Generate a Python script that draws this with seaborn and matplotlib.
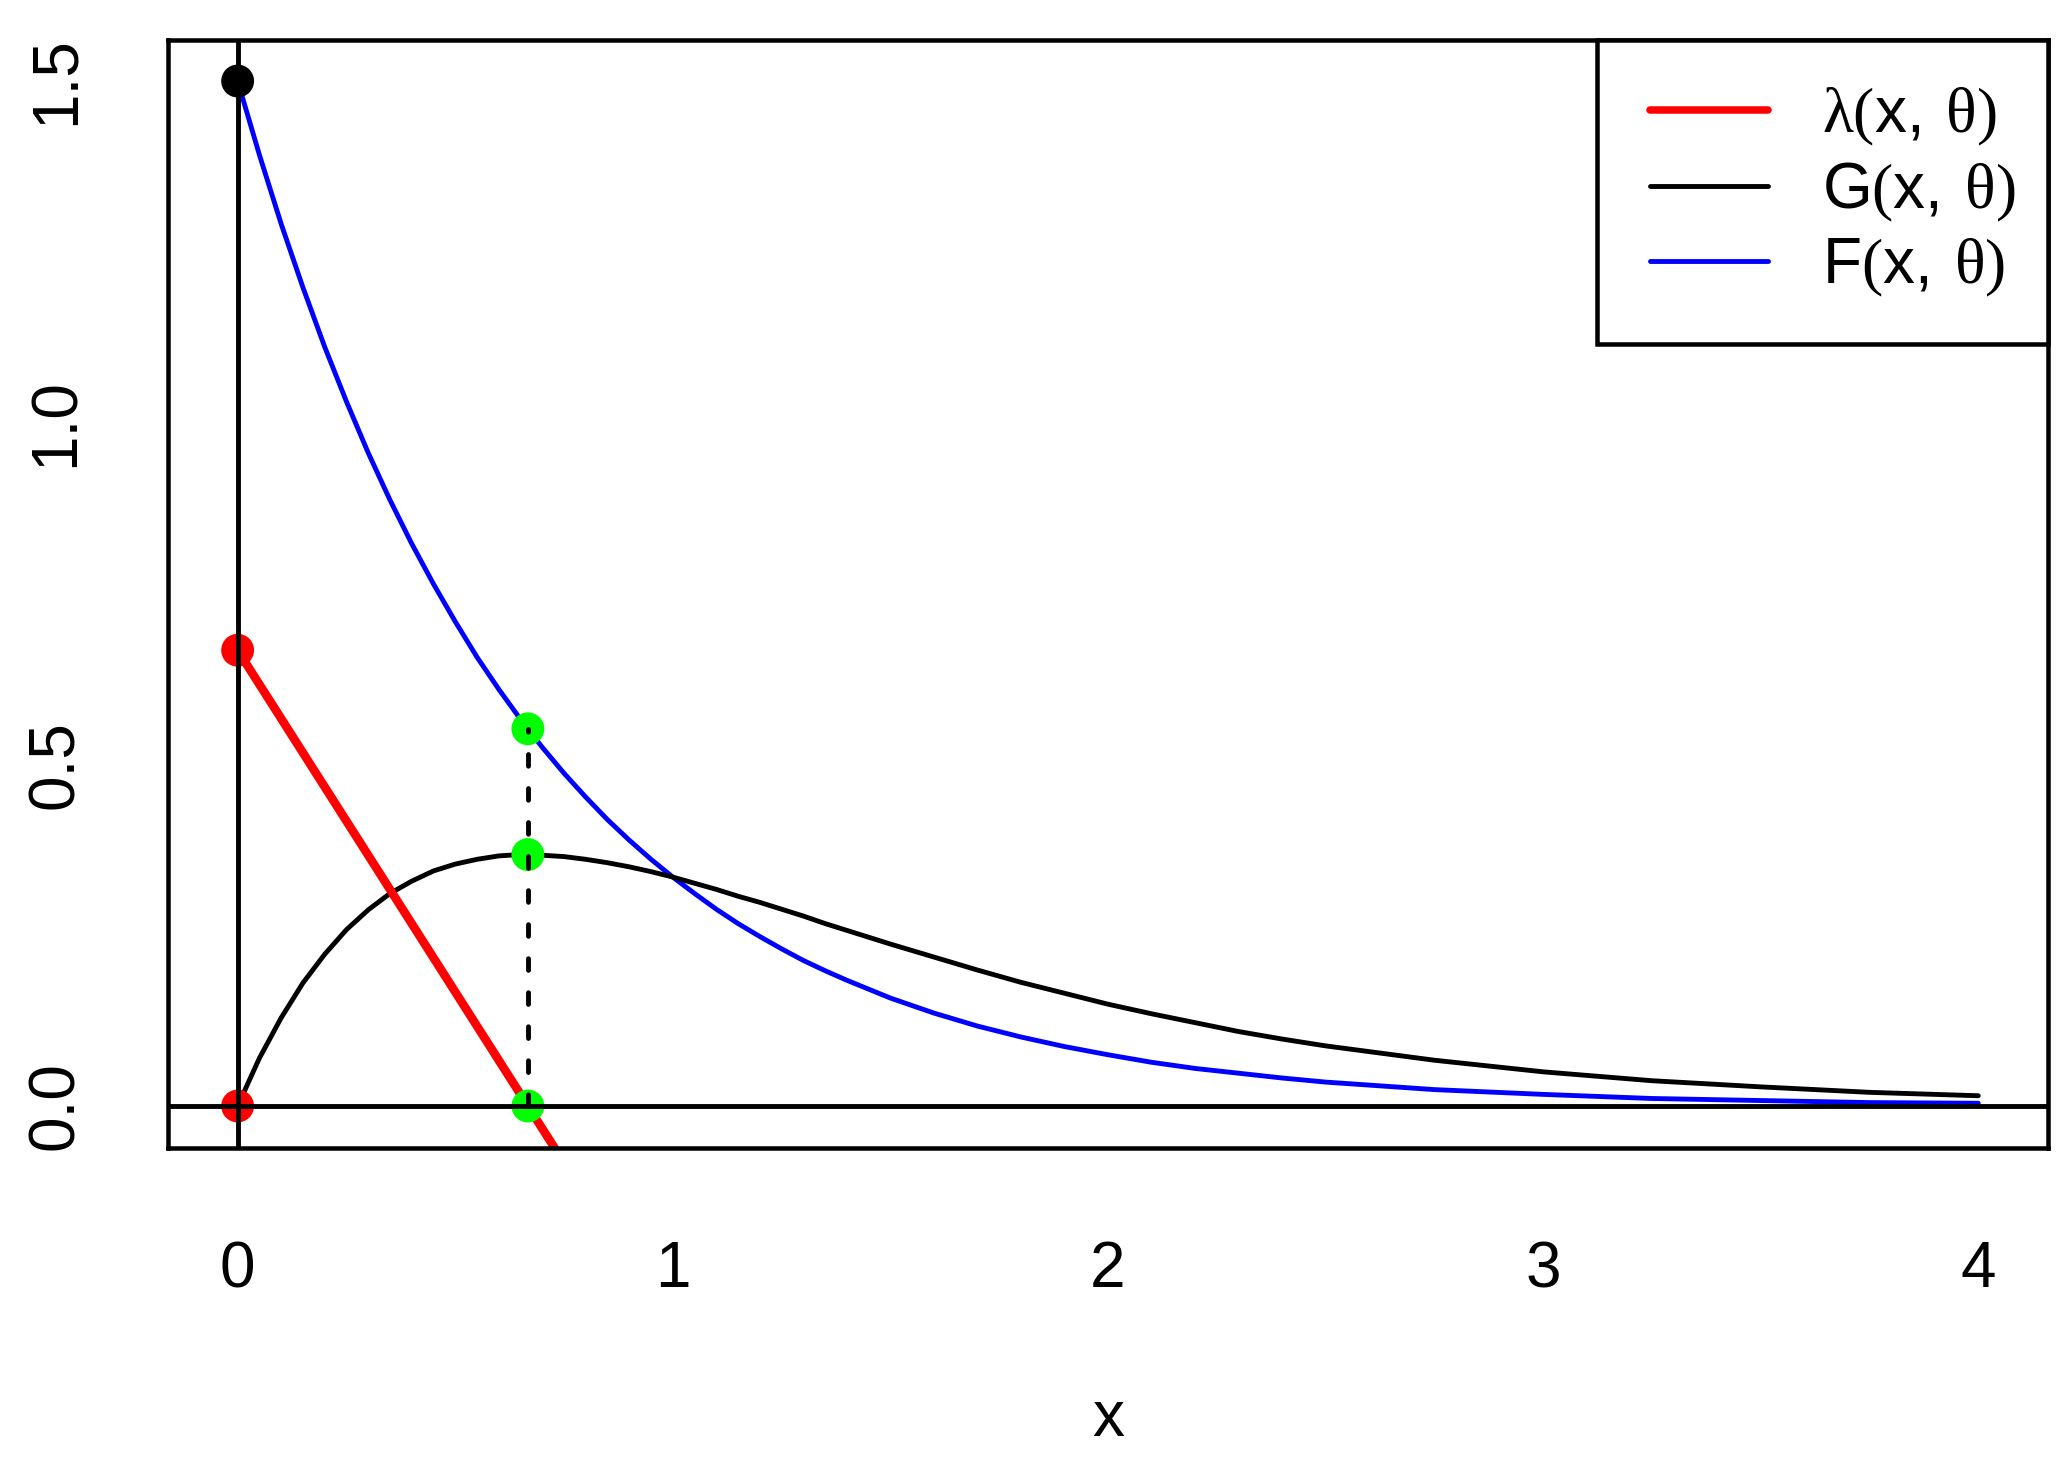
import matplotlib
matplotlib.use("Agg")
import pandas as pd
import matplotlib.pyplot as plt
from matplotlib.lines import Line2D
from matplotlib.legend_handler import HandlerLine2D
import seaborn as sns

# curves
x_vals = [0, 0.05, 0.1, 0.15, 0.2, 0.25, 0.3, 0.35, 0.4, 0.45, 0.5, 0.55, 0.6, 0.65,
          0.7, 0.75, 0.8, 0.85, 0.9, 0.95, 1.0, 1.05, 1.1, 1.15, 1.2, 1.25, 1.3, 1.35,
          1.4, 1.5, 1.6, 1.7, 1.8, 1.9, 2.0, 2.1, 2.2, 2.3, 2.4, 2.5, 2.75, 3.0, 3.25,
          3.5, 3.75, 4.0]
f_vals = [1.500, 1.392, 1.291, 1.198, 1.111, 1.031, 0.956, 0.887, 0.823, 0.764, 0.709,
          0.657, 0.610, 0.566, 0.525, 0.487, 0.452, 0.419, 0.389, 0.361, 0.335, 0.311,
          0.288, 0.267, 0.248, 0.230, 0.213, 0.198, 0.184, 0.158, 0.136, 0.117, 0.101,
          0.087, 0.075, 0.064, 0.055, 0.048, 0.041, 0.035, 0.024, 0.017, 0.011, 0.008,
          0.005, 0.004]
g_vals = [0, 0.070, 0.129, 0.180, 0.222, 0.258, 0.287, 0.311, 0.329, 0.344, 0.354,
          0.361, 0.366, 0.368, 0.367, 0.365, 0.361, 0.356, 0.350, 0.343, 0.335, 0.326,
          0.317, 0.307, 0.298, 0.288, 0.278, 0.267, 0.257, 0.237, 0.218, 0.199, 0.181,
          0.165, 0.149, 0.135, 0.122, 0.109, 0.098, 0.088, 0.067, 0.050, 0.037, 0.028,
          0.020, 0.015]
lam_x = [0, 1.0]
lam_y = [0.667, -0.333]

# marked points
pt_x = [0, 0, 0, 0.667, 0.667, 0.667]
pt_y = [1.5, 0.667, 0, 0.552, 0.368, 0]
pt_col = ['black', 'red', 'red', '#00ff00', '#00ff00', '#00ff00']

drop_x = [0.667, 0.667]
drop_y = [0, 0.552]

x_ticks = [0, 1, 2, 3, 4]
y_ticks = [0, 0.5, 1.0, 1.5]
y_ticklabels = ['0.0', '0.5', '1.0', '1.5']

labels = [r'$\mathrm{\lambda(}\mathsf{x,}\;\mathrm{\theta)}$',
          r'$\mathsf{G}\mathrm{(}\mathsf{x,}\;\mathrm{\theta)}$',
          r'$\mathsf{F}\mathrm{(}\mathsf{x,}\;\mathrm{\theta)}$']
colors = ['red', 'black', 'blue']

sns.set_theme(style='white')
plt.rcParams['font.family'] = ['Liberation Sans', 'DejaVu Sans']
plt.rcParams['mathtext.fontset'] = 'custom'
plt.rcParams['mathtext.rm'] = 'Liberation Serif'
plt.rcParams['mathtext.sf'] = 'Liberation Sans'
plt.rcParams['mathtext.it'] = 'Liberation Serif:italic'
plt.rcParams['text.color'] = 'black'
plt.rcParams['axes.labelcolor'] = 'black'

df = pd.DataFrame({'x': x_vals, 'F': f_vals, 'G': g_vals})
df_pts = pd.DataFrame({'x': pt_x, 'y': pt_y, 'c': pt_col})

fig = plt.figure(figsize=(20.69, 14.66), dpi=100)
ax = fig.add_axes([0.0812, 0.2169, 0.9086, 0.7558])

lw = 3.5
sns.lineplot(data=df, x='x', y='F', ax=ax, color='blue', lw=lw, zorder=2)
sns.lineplot(data=df, x='x', y='G', ax=ax, color='black', lw=lw, zorder=2)
sns.lineplot(x=lam_x, y=lam_y, ax=ax, color='red', lw=6.2, zorder=2)
sns.scatterplot(data=df_pts, x='x', y='y', ax=ax, hue='c', palette={c: c for c in pt_col},
                s=560, linewidth=0, legend=False, zorder=3)
ax.axvline(0, color='black', lw=lw, zorder=4)
ax.axhline(0, color='black', lw=lw, zorder=4)
ax.plot(drop_x, drop_y, color='black', lw=lw, linestyle=(0, (2.4, 4.6)),
        dash_capstyle='round', zorder=4)

ax.set_xlim(-0.16, 4.16)
ax.set_ylim(-0.0615, 1.56)
ax.set_xticks(x_ticks)
ax.set_xticklabels([str(t) for t in x_ticks])
ax.set_yticks(y_ticks)
ax.set_yticklabels(y_ticklabels, rotation=90, va='center')
ax.tick_params(axis='both', length=28.8, width=3.24, labelsize=46, colors='black',
               direction='out')
ax.tick_params(axis='x', pad=37.5)
ax.tick_params(axis='y', pad=30)
ax.set_xlabel('x', fontsize=46, labelpad=64)
ax.set_ylabel('')
for sp in ax.spines.values():
    sp.set_visible(True)
    sp.set_color('black')
    sp.set_linewidth(3.24)

handles = [Line2D([], [], color=c, lw=(5.4 if c == 'red' else lw)) for c in colors]
leg = ax.legend(handles, labels, loc='upper right', bbox_to_anchor=(0.760, 0, 0.240, 1.0),
                mode='expand', fontsize=46, frameon=True, fancybox=False,
                edgecolor='black', framealpha=1, borderaxespad=0, borderpad=0.71,
                handlelength=1.97, handletextpad=0.85, labelspacing=0.2,
                handler_map={Line2D: HandlerLine2D(xpad=0.12)})
leg.get_frame().set_linewidth(3.24)
leg.set_zorder(5)

fig.savefig('out.png', dpi=100, facecolor='white')
